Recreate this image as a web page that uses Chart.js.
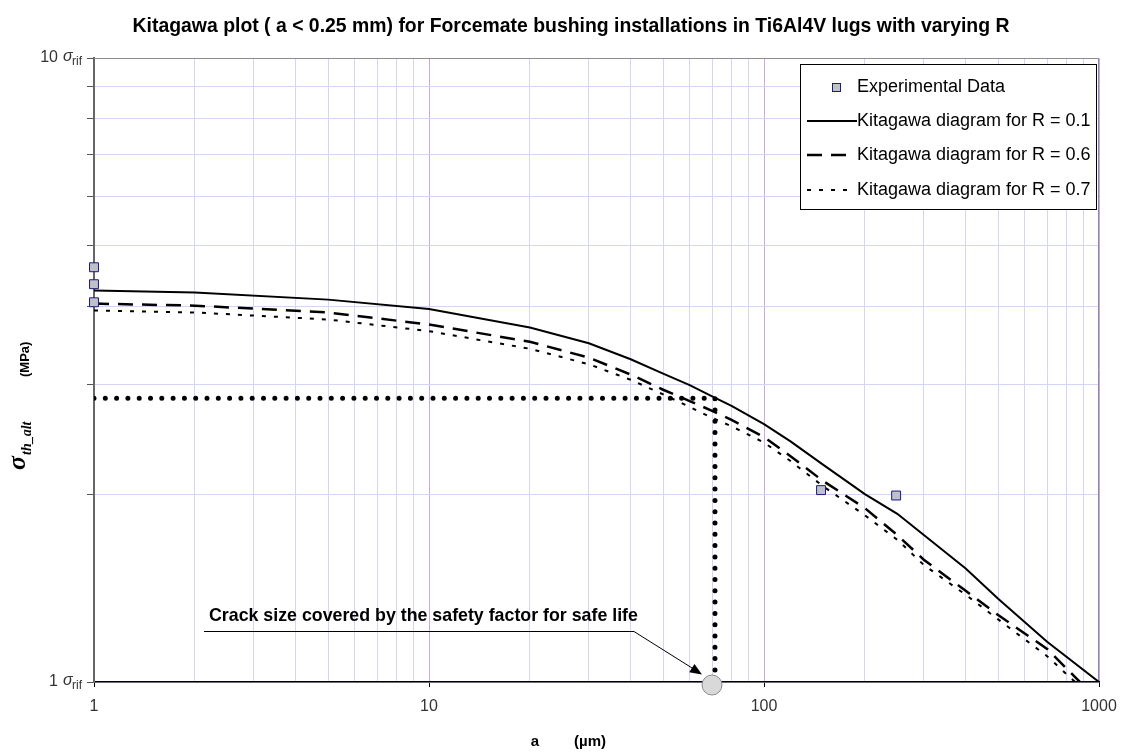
<!DOCTYPE html>
<html>
<head>
<meta charset="utf-8">
<script src="https://cdn.jsdelivr.net/npm/chart.js@4.4.0/dist/chart.umd.min.js"></script>
<style>
html, body { margin: 0; padding: 0; background: #fff; }
#wrap { width: 1132px; height: 754px; }
</style>
</head>
<body>
<div id="wrap"><canvas id="kChart" width="1132" height="754"></canvas></div>
<script>
// crack length a (µm) and threshold stress (in units of sigma_rif)
var aExp = [1, 1, 1, 148, 248];
var sExp = [4.62, 4.34, 4.06, 2.03, 1.99];

var aR01 = [1, 2, 5, 10, 20, 30, 40, 50, 60, 70, 80, 100, 120, 150, 200, 250, 300, 400, 500, 700, 1000];
var sR01 = [4.24, 4.21, 4.10, 3.96, 3.70, 3.49, 3.29, 3.12, 2.99, 2.87, 2.77, 2.59, 2.43, 2.23, 2.00, 1.86, 1.72, 1.52, 1.36, 1.16, 1.0];

var aR06 = [1, 2, 5, 10, 20, 30, 40, 50, 60, 70, 80, 100, 120, 150, 200, 250, 300, 400, 500, 700, 877];
var sR06 = [4.04, 4.01, 3.91, 3.74, 3.51, 3.31, 3.11, 2.94, 2.82, 2.72, 2.63, 2.47, 2.30, 2.10, 1.90, 1.72, 1.57, 1.40, 1.28, 1.13, 1.0];

var aR07 = [1, 2, 5, 10, 20, 30, 40, 50, 60, 70, 80, 100, 120, 150, 200, 250, 300, 400, 500, 700, 848];
var sR07 = [3.94, 3.91, 3.81, 3.65, 3.42, 3.23, 3.05, 2.89, 2.76, 2.65, 2.57, 2.42, 2.26, 2.06, 1.85, 1.69, 1.54, 1.38, 1.26, 1.10, 1.0];

// safe-life crack size guide line
var aSafe = [1, 71.4, 71.4];
var sSafe = [2.85, 2.85, 1];

var xTickLabels = [1, 10, 100, 1000];
var xGridValues = [1, 2, 3, 4, 5, 6, 7, 8, 9, 10, 20, 30, 40, 50, 60, 70, 80, 90, 100,
                   200, 300, 400, 500, 600, 700, 800, 900, 1000];
var yTickLabels = [1, 10];
var yGridValues = [1, 2, 3, 4, 5, 6, 7, 8, 9, 10];
var seriesNames = ['Experimental Data', 'Kitagawa diagram for R = 0.1', 'Kitagawa diagram for R = 0.6', 'Kitagawa diagram for R = 0.7'];

var FONT = 'Arial, "Liberation Sans", sans-serif';
var SERIF = '"Times New Roman", "Liberation Serif", serif';

function pts(xs, ys) {
    var out = [];
    for (var i = 0; i < xs.length; i++) out.push({ x: xs[i], y: ys[i] });
    return out;
}
function isDecade(v) {
    var l = Math.log10(v);
    return Math.abs(l - Math.round(l)) < 1e-6;
}

// text, legend and annotation drawn on top of the chart
var decor = {
    id: 'decor',
    beforeDatasetsDraw: function (chart) {
        var ctx = chart.ctx, ca = chart.chartArea;
        ctx.save();
        ctx.strokeStyle = '#8c8c8c';
        ctx.lineWidth = 1;
        ctx.beginPath();
        ctx.moveTo(ca.left, ca.top + 0.5);
        ctx.lineTo(ca.right - 0.5, ca.top + 0.5);
        ctx.lineTo(ca.right - 0.5, ca.bottom);
        ctx.stroke();
        ctx.restore();
    },
    afterDraw: function (chart) {
        var ctx = chart.ctx, ys = chart.scales.y;
        ctx.save();
        ctx.fillStyle = '#000';
        ctx.textBaseline = 'middle';

        // title
        var title = 'Kitagawa plot ( a < 0.25 mm) for Forcemate bushing installations in Ti6Al4V lugs with varying R';
        ctx.font = 'bold 16px ' + FONT;
        var fs = 16 * 877 / ctx.measureText(title).width;
        ctx.font = 'bold ' + fs.toFixed(2) + 'px ' + FONT;
        ctx.textAlign = 'center';
        ctx.fillText(title, 571, 27);

        // y tick labels "N σrif"
        ctx.fillStyle = '#333';
        yTickLabels.forEach(function (v) {
            var y = ys.getPixelForValue(v);
            ctx.textAlign = 'right';
            ctx.font = '16px ' + FONT;
            ctx.fillText(String(v), 58, y);
            ctx.textAlign = 'left';
            ctx.font = 'italic 16px ' + FONT;
            ctx.fillText('\u03c3', 63, y - 1);
            ctx.font = '12px ' + FONT;
            ctx.fillText('rif', 72, y + 4);
        });

        // x axis title
        ctx.fillStyle = '#000';
        ctx.font = 'bold 15px ' + FONT;
        ctx.textAlign = 'center';
        ctx.fillText('a', 535, 742);
        ctx.textAlign = 'left';
        ctx.fillText('(\u00b5m)', 574, 742);

        // y axis title, rotated
        ctx.save();
        ctx.translate(0, 470);
        ctx.rotate(-Math.PI / 2);
        ctx.textBaseline = 'alphabetic';
        ctx.textAlign = 'left';
        ctx.font = 'bold italic 26px ' + SERIF;
        ctx.fillText('\u03c3', 0, 25);
        ctx.font = 'bold italic 14px ' + SERIF;
        ctx.fillText('th_alt', 15, 31);
        ctx.font = 'bold 13px ' + FONT;
        ctx.fillText('(MPa)', 93, 29);
        ctx.restore();

        // annotation
        var note = 'Crack size covered by the safety factor for safe life';
        ctx.font = 'bold 14px ' + FONT;
        var nfs = 14 * 429 / ctx.measureText(note).width;
        ctx.font = 'bold ' + nfs.toFixed(2) + 'px ' + FONT;
        ctx.textAlign = 'left';
        ctx.fillText(note, 209, 616);
        ctx.strokeStyle = '#000';
        ctx.lineWidth = 1;
        ctx.beginPath();
        ctx.moveTo(204, 631.5);
        ctx.lineTo(634, 631.5);
        ctx.lineTo(700, 673);
        ctx.stroke();
        var dx = 66, dy = 41.5, len = Math.sqrt(dx * dx + dy * dy);
        var ux = dx / len, uy = dy / len;
        ctx.beginPath();
        ctx.moveTo(702, 674.5);
        ctx.lineTo(702 - 12 * ux - 5 * uy, 674.5 - 12 * uy + 5 * ux);
        ctx.lineTo(702 - 12 * ux + 5 * uy, 674.5 - 12 * uy - 5 * ux);
        ctx.closePath();
        ctx.fill();
        ctx.beginPath();
        ctx.arc(712, 685, 10, 0, Math.PI * 2);
        ctx.fillStyle = '#d9d9d9';
        ctx.fill();
        ctx.strokeStyle = '#8a8a8a';
        ctx.stroke();

        // legend box
        var lx = 800, ly = 64, lw = 296, lh = 145;
        ctx.fillStyle = '#fff';
        ctx.fillRect(lx, ly, lw, lh);
        ctx.strokeStyle = '#000';
        ctx.lineWidth = 1;
        ctx.strokeRect(lx + 0.5, ly + 0.5, lw, lh);
        var rows = [87, 121, 155, 190];
        var ds = chart.data.datasets;
        ctx.font = '18px ' + FONT;
        ctx.textAlign = 'left';
        rows.forEach(function (ry, i) {
            var d = ds[i];
            if (i === 0) {
                ctx.fillStyle = d.backgroundColor;
                ctx.fillRect(832, ry - 4, 9, 9);
                ctx.strokeStyle = d.borderColor;
                ctx.strokeRect(832.5, ry - 3.5, 8, 8);
            } else {
                ctx.strokeStyle = d.borderColor;
                ctx.lineWidth = d.borderWidth;
                ctx.setLineDash(d.borderDash || []);
                ctx.beginPath();
                ctx.moveTo(807, ry);
                ctx.lineTo(i === 1 ? 857 : 853, ry);
                ctx.stroke();
                ctx.setLineDash([]);
            }
            ctx.fillStyle = '#000';
            ctx.fillText(seriesNames[i], 857, ry);
        });
        ctx.restore();
    }
};

var ctx = document.getElementById('kChart').getContext('2d');
var kChart = new Chart(ctx, {
    type: 'scatter',
    data: {
        datasets: [
            { label: seriesNames[0], data: pts(aExp, sExp), pointStyle: 'rect', pointRadius: 6.3,
              backgroundColor: '#c0c0c8', borderColor: '#1a1a80', borderWidth: 1, clip: false },
            { label: seriesNames[1], data: pts(aR01, sR01), showLine: true, pointRadius: 0,
              borderColor: '#000', borderWidth: 2 },
            { label: seriesNames[2], data: pts(aR06, sR06), showLine: true, pointRadius: 0,
              borderColor: '#000', borderWidth: 2.5, borderDash: [15, 9] },
            { label: seriesNames[3], data: pts(aR07, sR07), showLine: true, pointRadius: 0,
              borderColor: '#000', borderWidth: 2, borderDash: [4, 8] },
            { label: 'safe life', data: pts(aSafe, sSafe), showLine: true, pointRadius: 0,
              borderColor: '#000', borderWidth: 5, borderDash: [0, 11.3], borderCapStyle: 'round' }
        ]
    },
    options: {
        responsive: false,
        animation: false,
        devicePixelRatio: 1,
        layout: { padding: { left: 0, right: 33, top: 58, bottom: 0 } },
        plugins: {
            legend: { display: false },
            title: { display: false },
            tooltip: { enabled: false }
        },
        scales: {
            x: {
                type: 'logarithmic',
                min: 1,
                max: 1000,
                afterBuildTicks: function (s) {
                    s.ticks = xGridValues.map(function (v) { return { value: v, major: isDecade(v) }; });
                },
                afterFit: function (s) { s.height = 72; },
                ticks: {
                    autoSkip: false,
                    maxRotation: 0,
                    padding: 10,
                    color: '#333',
                    font: { family: FONT, size: 16 },
                    callback: function (v) { return xTickLabels.indexOf(v) >= 0 ? String(v) : ''; }
                },
                grid: {
                    color: function (c) { return c.tick && isDecade(c.tick.value) ? '#caa6f0' : '#d4d4f7'; },
                    tickColor: function (c) { return c.tick && isDecade(c.tick.value) ? '#000' : 'rgba(0,0,0,0)'; },
                    tickLength: 5
                },
                border: { color: '#000', width: 1.5 }
            },
            y: {
                type: 'logarithmic',
                min: 1,
                max: 10,
                afterBuildTicks: function (s) {
                    s.ticks = yGridValues.map(function (v) { return { value: v }; });
                },
                afterFit: function (s) { s.width = 94; },
                ticks: { display: false },
                grid: {
                    color: '#d4d4f7',
                    tickColor: '#555',
                    tickLength: 7
                },
                border: { color: '#666', width: 2 }
            }
        }
    },
    plugins: [decor]
});
</script>
</body>
</html>
